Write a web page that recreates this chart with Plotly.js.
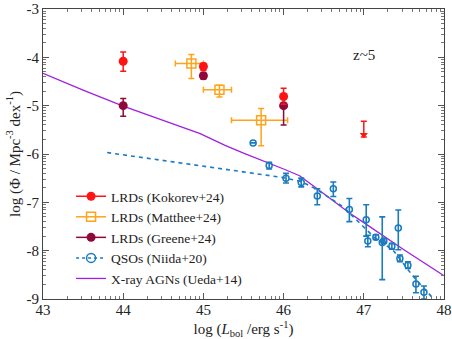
<!DOCTYPE html>
<html><head><meta charset="utf-8">
<script src="https://cdn.plot.ly/plotly-3.0.1.min.js"></script>
<style>html,body{margin:0;padding:0;background:#fff}#chart{width:452px;height:339px}</style>
</head><body><div id="chart"></div>
<script>
// Kokorev+24
const kokX = [44, 45, 46];
const kokY = [-4.08, -4.19, -4.81];
const kokErrUp = [0.19, 0.07, 0.17];
const kokErrDn = [0.21, 0.08, 0.16];
// Kokorev upper limit
const limX = [47];
const limY = [-5.32];
const limLen = [0.33];
// Matthee+24
const matX = [44.85, 45.2, 45.72];
const matY = [-4.13, -4.67, -5.30];
const matXErrDn = [0.2, 0.2, 0.37];
const matXErrUp = [0.15, 0.15, 0.33];
const matYErrUp = [0.19, 0.09, 0.24];
const matYErrDn = [0.31, 0.15, 0.53];
// Greene+24
const grX = [44, 45, 46];
const grY = [-5.0, -4.38, -5.0];
const grErrUp = [0.15, 0.05, 0.18];
const grErrDn = [0.22, 0.07, 0.40];
// QSOs Niida+20
const qX = [45.62, 45.82, 46.03, 46.22, 46.42, 46.62, 46.82, 47.03, 47.05, 47.15, 47.23, 47.25, 47.35, 47.43, 47.45, 47.55, 47.65, 47.75];
const qY = [-5.77, -6.24, -6.50, -6.59, -6.87, -6.72, -7.15, -7.36, -7.80, -7.72, -7.83, -7.80, -7.91, -7.53, -8.16, -8.30, -8.69, -8.86];
const qErrUp = [0.0, 0.07, 0.10, 0.09, 0.15, 0.14, 0.23, 0.31, 0.12, 0.05, 0.53, 0.05, 0.06, 0.37, 0.07, 0.07, 0.16, 0.13];
const qErrDn = [0.0, 0.07, 0.10, 0.09, 0.18, 0.16, 0.25, 0.34, 0.12, 0.05, 0.77, 0.05, 0.06, 0.45, 0.07, 0.07, 0.18, 0.14];
// QSO fit (dashed)
const qfX = [43.8, 44.5, 45.0, 45.5, 46.0, 46.22, 46.41, 46.74, 47.14, 47.36, 47.62, 47.86];
const qfY = [-5.97, -6.13, -6.25, -6.37, -6.49, -6.57, -6.73, -7.09, -7.74, -7.98, -8.54, -8.98];
// Ueda+14 X-ray AGN
const uX = [43.0, 43.5, 44.0, 44.5, 44.96, 45.27, 45.5, 46.0, 46.2, 46.41, 46.83, 47.0, 47.5, 48.0];
const uY = [-4.33, -4.68, -5.01, -5.30, -5.58, -5.82, -5.98, -6.31, -6.45, -6.71, -7.23, -7.42, -7.98, -8.52];

const xTicks = [43, 44, 45, 46, 47, 48];
const xTickText = ['43', '44', '45', '46', '47', '48'];
const yTicks = [-9, -8, -7, -6, -5, -4, -3];
const yTickText = ['-9', '-8', '-7', '-6', '-5', '-4', '-3'];

const cRed = '#ff1414', cOrange = '#ffa31a', cMaroon = '#8f0a3a', cBlue = '#1a7bbf', cPurple = '#a020e0';

function logMinor(lo, hi) {
  const v = [];
  for (let d = lo; d < hi; d++) for (let k = 2; k <= 9; k++) v.push(d + Math.log10(k));
  return v;
}

const traces = [
  {x: uX, y: uY, mode: 'lines', line: {color: cPurple, width: 1.3}, showlegend: false, hoverinfo: 'skip'},
  {x: qfX, y: qfY, mode: 'lines', line: {color: cBlue, width: 1.6, dash: '4px,4px'}, showlegend: false},
  {x: qX, y: qY, mode: 'markers', marker: {symbol: 'circle-open', size: 6, color: cBlue, line: {width: 1.5, color: cBlue}},
   error_y: {type: 'data', symmetric: false, array: qErrUp, arrayminus: qErrDn, color: cBlue, thickness: 1.6, width: 3}, showlegend: false},
  {x: matX, y: matY, mode: 'markers', marker: {symbol: 'square-open', size: 9, color: cOrange, line: {width: 1.5, color: cOrange}},
   error_x: {type: 'data', symmetric: false, array: matXErrUp, arrayminus: matXErrDn, color: cOrange, thickness: 1.5, width: 3},
   error_y: {type: 'data', symmetric: false, array: matYErrUp, arrayminus: matYErrDn, color: cOrange, thickness: 1.5, width: 3}, showlegend: false},
  {x: grX, y: grY, mode: 'markers', marker: {symbol: 'circle', size: 9, color: cMaroon},
   error_y: {type: 'data', symmetric: false, array: grErrUp, arrayminus: grErrDn, color: cMaroon, thickness: 1.5, width: 3}, showlegend: false},
  {x: kokX, y: kokY, mode: 'markers', marker: {symbol: 'circle', size: 9, color: cRed},
   error_y: {type: 'data', symmetric: false, array: kokErrUp, arrayminus: kokErrDn, color: cRed, thickness: 1.5, width: 3}, showlegend: false},
  {x: limX, y: limY, mode: 'markers', marker: {size: 0.1, color: cRed},
   error_y: {type: 'data', symmetric: false, array: [0], arrayminus: limLen, color: cRed, thickness: 1.5, width: 3}, showlegend: false},
  {x: limX, y: limY.map((v, i) => v - limLen[i] + 0.05), mode: 'markers', marker: {symbol: 'triangle-down', size: 7, color: cRed}, showlegend: false},
  // legend entries
  {x: [null], y: [null], mode: 'lines+markers', name: 'LRDs (Kokorev+24)', line: {color: cRed, width: 1.5}, marker: {symbol: 'circle', size: 9, color: cRed}},
  {x: [null], y: [null], mode: 'lines+markers', name: 'LRDs (Matthee+24)', line: {color: cOrange, width: 1.5}, marker: {symbol: 'square-open', size: 9, color: cOrange, line: {width: 1.5, color: cOrange}}},
  {x: [null], y: [null], mode: 'lines+markers', name: 'LRDs (Greene+24)', line: {color: cMaroon, width: 1.5}, marker: {symbol: 'circle', size: 9, color: cMaroon}},
  {x: [null], y: [null], mode: 'lines+markers', name: 'QSOs (Niida+20)', line: {color: cBlue, width: 1.5, dash: 'dot'}, marker: {symbol: 'circle-open', size: 9, color: cBlue, line: {width: 1.5, color: cBlue}}},
  {x: [null], y: [null], mode: 'lines', name: 'X-ray AGNs (Ueda+14)', line: {color: cPurple, width: 1.3}}
];

const axisCommon = {
  showgrid: false, zeroline: false, showline: true, linecolor: '#444', linewidth: 1,
  mirror: 'ticks', ticks: 'inside', ticklen: 6, tickwidth: 1, tickcolor: '#555',
  tickfont: {family: 'Liberation Serif', size: 15, color: '#222'}, tickmode: 'array'
};

const layout = {
  width: 452, height: 339,
  margin: {l: 43, r: 8, t: 9, b: 40},
  paper_bgcolor: '#fff', plot_bgcolor: '#fff',
  font: {family: 'Liberation Serif', color: '#222'},
  xaxis: Object.assign({}, axisCommon, {
    range: [43, 48], tickvals: xTicks, ticktext: xTickText, ticklabelstandoff: -3,
    minor: {tickmode: 'array', tickvals: logMinor(43, 48), ticklen: 3, tickcolor: '#777', ticks: 'inside'},
    title: {text: 'log (<i>L</i><sub>bol</sub> /erg s<sup>-1</sup>)', font: {family: 'Liberation Serif', size: 15}, standoff: 6}
  }),
  yaxis: Object.assign({}, axisCommon, {
    range: [-9, -3], tickvals: yTicks, ticktext: yTickText,
    minor: {tickmode: 'array', tickvals: logMinor(-9, -3), ticklen: 3, tickcolor: '#777', ticks: 'inside'},
    title: {text: 'log (Φ / Mpc<sup>-3</sup> dex<sup>-1</sup>)', font: {family: 'Liberation Serif', size: 15}, standoff: 2}
  }),
  legend: {x: 0.07, y: 0.407, xanchor: 'left', yanchor: 'top', bgcolor: 'rgba(0,0,0,0)',
    font: {family: 'Liberation Serif', size: 13.5, color: '#222'}, tracegroupgap: 0, itemwidth: 30},
  annotations: [{xref: 'paper', yref: 'paper', x: 0.833, y: 0.875, text: 'z~5', showarrow: false,
    font: {family: 'Liberation Serif', size: 15, color: '#222'}}]
};

Plotly.newPlot('chart', traces, layout, {staticPlot: true, displayModeBar: false});
</script>
</body></html>
